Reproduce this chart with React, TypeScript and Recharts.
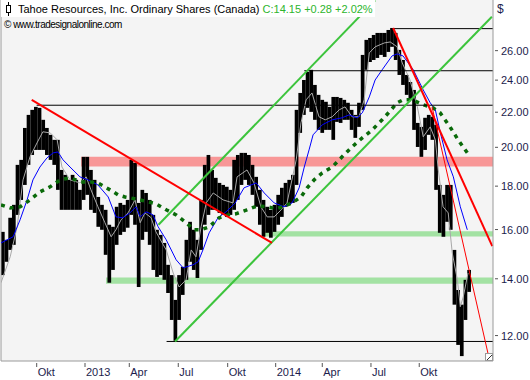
import React from 'react';
import {
  ComposedChart,
  Bar,
  Line,
  XAxis,
  YAxis,
  CartesianGrid,
  ReferenceLine,
  ReferenceArea,
} from 'recharts';

// weekly high / low, week 0 = late Jul 2012
const weekHigh = [
  15.9, 15.56, 16.52, 17.11, 19.07, 19.33, 21.08, 21.84, 22.14, 22.32,
  22.26, 21.55, 21.08, 20.69, 20.41, 20.41, 18.81, 18.56, 18.31, 18.56,
  18.31, 17.82, 19.49, 19.49, 18.81, 18.31, 17.48, 17.11, 16.88, 16.21,
  16.12, 17.02, 17.2, 17.11, 17.34, 19.33, 19.17, 17.2, 17.82, 17.67,
  17.34, 16.65, 15.99, 15.77, 15.43, 14.54, 14.14, 13.22, 14.14, 14.46,
  15.56, 16.34, 15.99, 15.56, 17.34, 19.07, 19.59, 18.81, 18.41, 18.16,
  18.06, 17.97, 17.82, 19.33, 19.59, 19.7, 19.7, 19.59, 19.07, 18.46,
  17.82, 17.34, 17.02, 16.88, 17.11, 17.58, 17.92, 18.16, 18.31, 18.56,
  22.14, 23.18, 24.01, 24.54, 24.68, 23.69, 23.06, 22.75, 22.63, 22.32,
  22.93, 22.93, 22.87, 22.75, 22.57, 22.14, 21.84, 22.57, 25.7, 26.77,
  26.91, 27.13, 27.28, 27.28, 27.28, 27.5, 27.65, 27.28, 26.05, 25.35,
  24.34, 23.88, 23.37, 21.37, 21.14, 21.67, 21.84, 21.73, 21.26, 18.06,
  17.58, 18.06, 18.06, 15.14, 13.58, 13.05, 13.96, 14.34,
];
const weekLow = [
  14.14, 14.66, 15.14, 15.35, 16.65, 17.34, 18.06, 19.07, 19.59, 19.86,
  19.86, 19.86, 19.59, 19.33, 19.07, 17.82, 16.88, 16.88, 16.88, 16.88,
  16.88, 16.88, 17.34, 17.58, 16.88, 16.74, 16.12, 15.99, 14.94, 13.85,
  14.34, 15.35, 15.77, 15.9, 16.08, 16.65, 16.21, 13.69, 15.56, 15.9,
  15.35, 14.34, 14.07, 14.14, 13.96, 13.47, 12.52, 11.83, 12.52, 13.4,
  13.96, 14.66, 14.34, 14.03, 15.14, 16.21, 16.65, 16.88, 16.88, 16.74,
  16.65, 16.56, 16.65, 16.88, 17.34, 18.06, 18.31, 18.06, 17.58, 17.02,
  16.21, 15.69, 15.86, 15.65, 15.9, 16.21, 16.56, 17.02, 17.11, 17.2,
  18.06, 20.8, 21.84, 22.26, 22.02, 21.55, 20.97, 20.8, 20.97, 20.97,
  20.41, 21.43, 21.37, 21.55, 21.55, 20.97, 20.52, 21.14, 22.14, 24.68,
  25.21, 25.35, 25.49, 25.7, 25.56, 25.91, 26.27, 25.35, 24.34, 23.69,
  23.06, 22.75, 20.97, 20.02, 19.49, 19.86, 20.69, 20.41, 17.82, 15.86,
  15.69, 16.34, 15.99, 13.05, 11.7, 11.35, 12.52, 13.51,
];

// light gray average
const grayWeeks = [
  0, 2.5, 4.4, 6.0, 7.9, 9.8, 11.4, 13.4, 15.3, 16.6, 18.8, 21.5, 23.2, 24.5, 26.4,
  28.3, 30.0, 31.3, 32.7, 34.6, 36.5, 37.9, 39.2, 40.9, 42.2, 45.0, 46.9, 48.5, 50.4, 51.8,
  53.1, 54.5, 55.9, 57.8, 60.5, 63.2, 64.3, 67.0, 68.9, 70.8, 72.5, 74.4, 76.3, 77.9, 80.4,
  81.7, 83.1, 84.7, 86.6, 88.3, 90.2, 92.1, 93.7, 95.6, 97.5, 98.9, 100.3, 101.9, 104.4, 106.0,
  107.9, 109.3, 111.4, 113.4, 115.0, 116.9, 118.3, 119.1, 120.4, 121.8, 122.9, 124.3, 125.1, 125.9, 127.2,
];
const grayValues = [
  13.85, 14.86, 16.12, 18.31, 19.49, 20.24, 20.86, 20.8, 20.41, 18.96, 18.31, 18.16, 18.46, 17.82, 17.02,
  16.3, 15.69, 15.99, 16.43, 16.74, 17.34, 16.3, 16.74, 16.52, 15.9, 15.14, 14.22, 13.69, 13.96, 15.14,
  14.86, 16.12, 17.2, 17.67, 17.34, 17.2, 18.46, 18.81, 18.16, 17.02, 16.56, 16.56, 16.88, 17.2, 19.33,
  21.37, 22.75, 23.18, 21.73, 21.55, 21.73, 22.14, 22.32, 21.73, 21.73, 22.75, 25.84, 26.27, 26.55, 26.62,
  26.27, 25.14, 24.01, 22.32, 20.58, 21.14, 20.41, 18.81, 17.02, 16.74, 15.02, 13.96, 12.98, 13.33, 14.22,
];

// blue average
const blueWeeks = [
  0, 3.3, 5.2, 7.1, 8.7, 10.6, 12.5, 14.2, 15.5, 16.9, 18.8, 21.5, 23.7, 26.4, 29.2, 31.3,
  33.2, 35.1, 36.8, 37.9, 39.5, 41.4, 42.8, 45.0, 47.7, 49.6, 52.3, 53.7, 55.0, 56.7, 59.1, 61.3,
  63.8, 66.2, 69.5, 71.7, 74.4, 77.1, 79.3, 81.2, 82.6, 83.9, 85.0, 87.5, 90.2, 92.9, 94.8, 97.0,
  98.4, 100.3, 101.9, 103.8, 106.5, 107.9, 109.5, 112.3, 115.0, 116.9, 118.3, 119.6, 121.5, 123.2, 125.1, 127.0,
];
const blueValues = [
  15.43, 15.69, 16.43, 17.34, 18.31, 18.96, 19.43, 19.7, 19.75, 19.33, 18.96, 18.46, 18.31, 18.06, 17.48, 16.56,
  16.52, 16.74, 17.02, 16.56, 16.79, 16.65, 16.12, 15.56, 14.74, 14.42, 14.54, 14.66, 15.14, 15.86, 16.52, 16.79,
  17.2, 17.92, 18.16, 17.67, 17.2, 17.02, 17.2, 17.92, 18.96, 19.86, 20.69, 21.26, 21.55, 21.67, 21.84, 21.67,
  21.96, 22.93, 24.01, 24.68, 25.63, 25.77, 25.63, 24.68, 23.37, 22.57, 22.14, 20.86, 19.33, 18.46, 17.02, 15.99,
];

// dotted green long average
const slowWeeks = [
  0, 2.5, 5.2, 7.9, 10.6, 13.4, 16.1, 18.8, 21.8, 24.3, 26.4, 29.7, 31.9, 33.8, 35.4, 37.9, 40.1, 42.2,
  45.0, 47.7, 50.4, 52.6, 54.5, 56.7, 59.4, 61.9, 64.0, 67.0, 69.8, 72.5, 74.9, 76.6, 79.3, 81.7, 83.4,
  85.3, 87.5, 90.2, 92.9, 95.6, 98.4, 101.1, 103.8, 106.0, 107.9, 109.5, 112.0, 115.0, 117.7, 119.6, 122.3, 124.5, 127.0,
];
const slowValues = [
  17.11, 16.97, 17.02, 17.34, 17.72, 17.97, 18.31, 18.41, 18.21, 18.21, 18.16, 17.82, 17.58, 17.48, 17.43, 17.34, 17.25, 17.16,
  16.88, 16.65, 16.3, 15.99, 15.99, 16.12, 16.52, 16.65, 16.7, 16.88, 17.06, 17.02, 16.93, 17.02, 17.2, 17.48, 17.92,
  18.31, 18.66, 18.96, 19.49, 20.02, 20.52, 20.97, 21.55, 22.08, 22.57, 22.75, 22.75, 22.45, 22.26, 21.96, 21.14, 20.41, 19.7,
];

const tickWeeks = [9.72, 22.88, 34.94, 48.28, 61.74, 74.81, 87.5, 100.76, 113.91];
const tickLabels = ['Okt', '2013', 'Apr', 'Jul', 'Okt', '2014', 'Apr', 'Jul', 'Okt'];
const priceTicks = [12, 14, 16, 18, 20, 22, 24, 26];

// drawn trend lines: [week, price] -> [week, price]
const redThick = [
  [[8.37, 22.75], [73.8, 15.43]],
  [[106.8, 27.65], [133.8, 15.3]],
];
const redThin = [[[117.4, 22.32], [132.7, 11.4]]];
const greenTrend = [
  [[47.4, 11.81], [133.7, 28.5]],
  [[42.9, 16.21], [101.9, 29.8]],
];
const levelFrom = [9.7, 82.6, 106.8, 45.1];
const levelPrice = [22.42, 24.62, 27.6, 11.81];
const redZone = [21.8, 18.98, 19.5];
const greenZones = [
  [71.1, 15.7, 15.93],
  [28.6, 13.81, 14.05],
];

const LAST_WEEK = 134;
const FONT = '"Liberation Sans", Arial, sans-serif';
const NAVY = '#1c1c4c';

const XTick = (props: any) => {
  const { x, index } = props;
  return (
    <g>
      <line x1={x} x2={x} y1={363} y2={367} stroke="#555" />
      <text x={x + 1} y={376} fontSize={11} fontFamily={FONT} fill={NAVY} textAnchor="start">
        {tickLabels[index]}
      </text>
    </g>
  );
};

const YTick = (props: any) => {
  const { y, payload } = props;
  return (
    <g>
      <line x1={495} x2={498} y1={y} y2={y} stroke="#555" />
      <text x={501} y={y + 4} fontSize={11} fontFamily={FONT} fill={NAVY} textAnchor="start">
        {Number(payload.value).toFixed(2)}
      </text>
    </g>
  );
};

// weekly range bar, as wide as one week so neighbours touch
const RangeBar = (props: any) => {
  const { x, y, width, height } = props;
  if (height == null || isNaN(y)) return null;
  const cx = x + width / 2;
  return <rect x={cx - 1.85} y={y} width={3.7} height={Math.max(height, 1)} fill="#000" />;
};

const seg = (s: number[][]) => [
  { x: s[0][0], y: s[0][1] },
  { x: s[1][0], y: s[1][1] },
];

export default function App() {
  const bars = weekHigh.map((h, i) => ({ w: i + 0.5, range: [weekLow[i], h] }));
  const gray = grayWeeks.map((w, k) => ({ w, v: grayValues[k] }));
  const blue = blueWeeks.map((w, k) => ({ w, v: blueValues[k] }));
  const slow = slowWeeks.map((w, k) => ({ w, v: slowValues[k] }));

  return (
    <div style={{ position: 'absolute', left: 0, top: 0, width: 530, height: 380, background: '#fff', fontFamily: FONT }}>
      <ComposedChart width={530} height={380} data={bars} margin={{ top: 0, right: 0, bottom: 0, left: 1 }}>
        <CartesianGrid horizontal={false} vertical={false} fill="#f4f4f4" />
        <XAxis
          type="number"
          dataKey="w"
          domain={[0, LAST_WEEK]}
          ticks={tickWeeks}
          interval={0}
          allowDataOverflow
          height={19}
          axisLine={{ stroke: '#9a9a9a' }}
          tickLine={false}
          tick={<XTick />}
        />
        <YAxis
          orientation="right"
          scale="log"
          domain={[11.2, 29.83]}
          allowDataOverflow
          ticks={priceTicks}
          interval={0}
          width={37}
          axisLine={{ stroke: '#9a9a9a' }}
          tickLine={false}
          tick={<YTick />}
        />
        <ReferenceLine x={0} stroke="#9a9a9a" />
        <Bar dataKey="range" barSize={3} fill="#000" shape={<RangeBar />} isAnimationActive={false} />
        <Line data={gray} dataKey="v" stroke="#a8a8a8" strokeWidth={1} dot={false} isAnimationActive={false} />
        <Line data={blue} dataKey="v" stroke="#0000ff" strokeWidth={1} dot={false} isAnimationActive={false} />
        <Line
          data={slow}
          dataKey="v"
          stroke="#0a6a0a"
          strokeWidth={3.5}
          strokeDasharray="4 5"
          dot={false}
          isAnimationActive={false}
        />
        {levelFrom.map((f, k) => (
          <ReferenceLine
            key={'lv' + k}
            segment={[{ x: f, y: levelPrice[k] }, { x: LAST_WEEK, y: levelPrice[k] }]}
            stroke="#000"
            strokeWidth={1}
            ifOverflow="visible"
          />
        ))}
        {greenTrend.map((s, k) => (
          <ReferenceLine key={'gt' + k} segment={seg(s)} stroke="#3cc43c" strokeWidth={2} ifOverflow="visible" />
        ))}
        {redThick.map((s, k) => (
          <ReferenceLine key={'rt' + k} segment={seg(s)} stroke="#ff0000" strokeWidth={2} ifOverflow="visible" />
        ))}
        {redThin.map((s, k) => (
          <ReferenceLine key={'rn' + k} segment={seg(s)} stroke="#ff0000" strokeWidth={1} ifOverflow="visible" />
        ))}
        <ReferenceArea
          x1={redZone[0]}
          x2={LAST_WEEK}
          y1={redZone[1]}
          y2={redZone[2]}
          fill="#ff0000"
          fillOpacity={0.38}
          stroke="none"
          ifOverflow="visible"
        />
        {greenZones.map((z, k) => (
          <ReferenceArea
            key={'gz' + k}
            x1={z[0]}
            x2={LAST_WEEK}
            y1={z[1]}
            y2={z[2]}
            fill="#00c000"
            fillOpacity={0.33}
            stroke="none"
            ifOverflow="visible"
          />
        ))}
      </ComposedChart>

      <div
        style={{
          position: 'absolute',
          left: 1,
          top: 0,
          height: 17,
          background: '#fff',
          display: 'flex',
          alignItems: 'center',
          paddingRight: 2,
          fontSize: 11,
          whiteSpace: 'nowrap',
        }}
      >
        <svg width={14} height={17} style={{ marginLeft: 2, marginRight: 1 }}>
          <line x1={5.5} x2={5.5} y1={2} y2={16} stroke="#000" />
          <rect x={3.5} y={5.5} width={4} height={7} fill="#fff" stroke="#000" />
        </svg>
        <span style={{ color: '#000' }}>Tahoe Resources, Inc. Ordinary Shares (Canada)&nbsp;</span>
        <span style={{ color: '#2db52d' }}>C:14.15 +0.28 +2.02%</span>
      </div>
      <div
        style={{
          position: 'absolute',
          left: 4,
          top: 19,
          fontSize: 10,
          letterSpacing: -0.5,
          color: '#000',
          whiteSpace: 'nowrap',
        }}
      >
        © www.tradesignalonline.com
      </div>
      <div style={{ position: 'absolute', left: 497, top: 2, fontSize: 12, color: NAVY }}>$</div>
      <svg style={{ position: 'absolute', left: 485, top: 353 }} width={9} height={9}>
        <rect x={0.5} y={0.5} width={7} height={7} fill="#fff" stroke="#999" />
        <line x1={2} y1={7} x2={7} y2={2} stroke="#333" />
      </svg>
    </div>
  );
}
